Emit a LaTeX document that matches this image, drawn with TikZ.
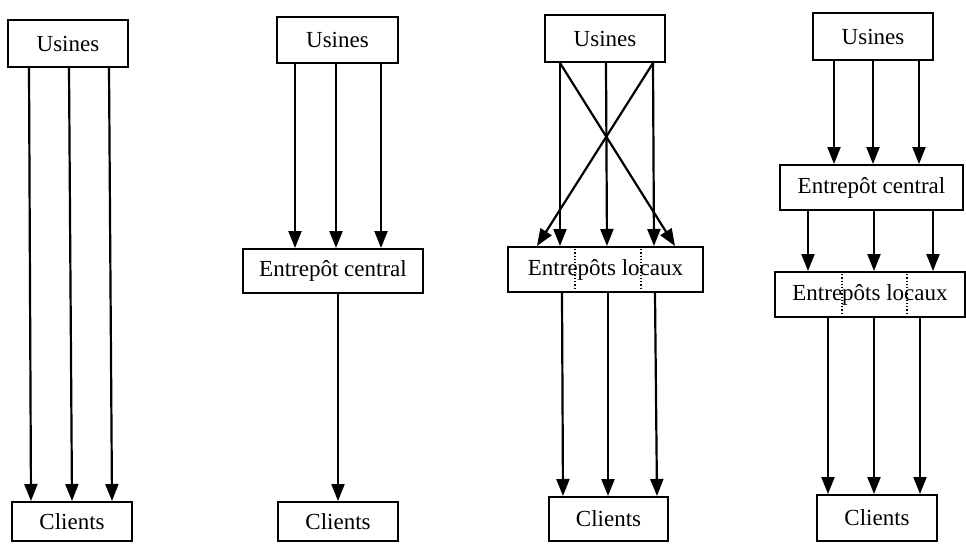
\documentclass[tikz,border=0pt]{standalone}
\usepackage{fontspec}
\setmainfont{Liberation Serif}
\usetikzlibrary{arrows.meta,calc}

\begin{document}
\begin{tikzpicture}[x=0.5pt, y=-0.5pt,
    boite/.style={draw, line width=1pt, inner sep=0pt, font=\fontsize{11.5}{14}\selectfont},
    fleche/.style={-{Triangle[length=8.5pt,width=6.5pt]}, line width=1.1pt},
    pointille/.style={densely dotted, line width=0.6pt}]
    \useasboundingbox (0,0) rectangle (966,543);

    % Schema 1: usines -> clients
    \node[boite, minimum width=60pt, minimum height=23.5pt] (u1) at (68,43.5) {Usines};
    \node[boite, minimum width=60pt, minimum height=19.5pt] (c1) at (72,521.5) {Clients};
    \foreach \a/\b in {-39/-41, 1/0, 41/40}
        \draw[fleche] ($(u1.south)+(\a,0)$) -- ($(c1.north)+(\b,0)$);

    % Schema 2: passaggio per l'entrepot central
    \node[boite, minimum width=60.5pt, minimum height=23pt] (u2) at (337.5,40) {Usines};
    \node[boite, minimum width=90pt, minimum height=22pt] (e2) at (333,271) {Entrepôt central};
    \node[boite, minimum width=60pt, minimum height=19.5pt] (c2) at (338,521.5) {Clients};
    \foreach \a/\b in {-42.5/-38, -1.5/3, 43.5/48}
        \draw[fleche] ($(u2.south)+(\a,0)$) -- ($(e2.north)+(\b,0)$);
    \draw[fleche] ($(e2.south)+(5,0)$) -- (c2.north);

    % Schema 3: entrepots locaux, flussi incrociati
    \node[boite, minimum width=60pt, minimum height=23.5pt] (u3) at (605,38.5) {Usines};
    \node[boite, minimum width=97.5pt, minimum height=22.5pt] (l3) at (605.5,269.5) {Entrepôts locaux};
    \node[boite, minimum width=59.5pt, minimum height=22pt] (c3) at (608.5,519) {Clients};
    \foreach \a/\b in {-45/-45.5, 1/1.5, 48/48.5}
        \draw[fleche] ($(u3.south)+(\a,0)$) -- ($(l3.north)+(\b,0)$);
    \draw[fleche] ($(u3.south)+(-45,0)$) -- ($(l3.north)+(69.5,0)$);
    \draw[fleche] ($(u3.south)+(48,0)$) -- ($(l3.north)+(-68.5,0)$);
    \foreach \d in {-30.5, 35.5}
        \draw[pointille] ($(l3.north)+(\d,0)$) -- ($(l3.south)+(\d,0)$);
    \foreach \a/\b in {-43.5/-45.5, 2.5/-0.5, 49.5/48.5}
        \draw[fleche] ($(l3.south)+(\a,0)$) -- ($(c3.north)+(\b,0)$);

    % Schema 4: entrepot central poi entrepots locaux
    \node[boite, minimum width=60pt, minimum height=23.5pt] (u4) at (873,36.5) {Usines};
    \node[boite, minimum width=91.5pt, minimum height=22.5pt] (e4) at (871.5,187.5) {Entrepôt central};
    \node[boite, minimum width=95pt, minimum height=22.5pt] (l4) at (870,294.5) {Entrepôts locaux};
    \node[boite, minimum width=60pt, minimum height=23pt] (c4) at (877,518) {Clients};
    \foreach \a/\b in {-39/-37.5, 0/1.5, 46/47.5}
        \draw[fleche] ($(u4.south)+(\a,0)$) -- ($(e4.north)+(\b,0)$);
    \foreach \a/\b in {-63.5/-62, 2.5/4, 61.5/63}
        \draw[fleche] ($(e4.south)+(\a,0)$) -- ($(l4.north)+(\b,0)$);
    \foreach \d in {-28, 37}
        \draw[pointille] ($(l4.north)+(\d,0)$) -- ($(l4.south)+(\d,0)$);
    \foreach \a/\b in {-42/-49, 4/-3, 50/43}
        \draw[fleche] ($(l4.south)+(\a,0)$) -- ($(c4.north)+(\b,0)$);
\end{tikzpicture}
\end{document}
